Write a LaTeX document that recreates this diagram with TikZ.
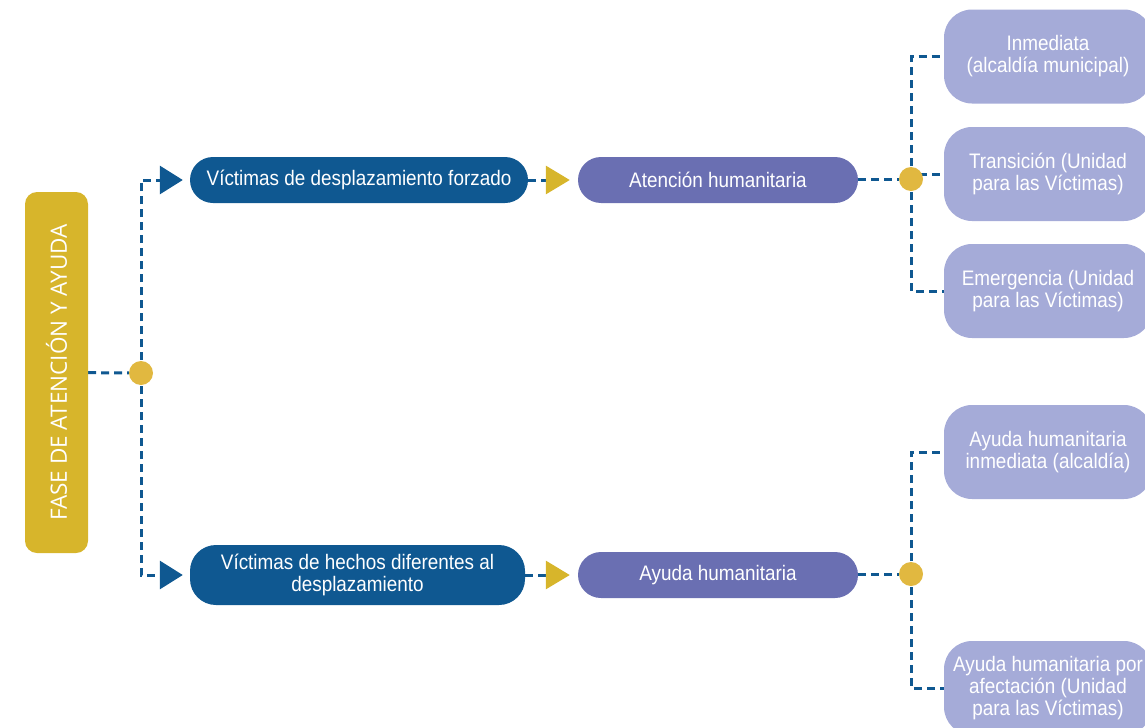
\documentclass[tikz,border=0pt]{standalone}
\usepackage{fontspec}
\setmainfont{Liberation Sans}[FakeStretch=0.9]
\newfontfamily\fasefont{Open Sans}
\usepackage{tikz}
\usetikzlibrary{arrows.meta,shapes,backgrounds}
\definecolor{gold}{RGB}{215,181,43}
\definecolor{dotgold}{RGB}{225,184,64}
\definecolor{navy}{RGB}{15,88,145}
\definecolor{violet}{RGB}{106,111,178}
\definecolor{lilac}{RGB}{165,171,216}

\begin{document}
\begin{tikzpicture}[
  every node/.style={text=white,font=\fontsize{21bp}{22bp}\selectfont,align=center,inner sep=0pt},
  fasebox/.style={fill=gold,rounded corners=12bp,minimum width=63bp,minimum height=361bp},
  navybox/.style={fill=navy,rounded corners=23bp,minimum width=338bp,minimum height=46bp},
  violetbox/.style={fill=violet,rounded corners=23bp,minimum width=280bp,minimum height=46bp},
  lilacbox/.style={fill=lilac,rounded corners=28bp,minimum width=208bp,minimum height=94bp},
  joint/.style={circle,fill=dotgold,minimum size=24bp},
  dashline/.style={draw=navy,line width=3bp,dash pattern=on 8bp off 5bp},
  navytip/.style={-{Triangle[length=23bp,width=28bp,color=navy]},shorten >=7bp},
  goldtip/.style={-{Triangle[length=24bp,width=28bp,color=gold]},shorten >=8bp}]
\useasboundingbox (0bp,0bp) rectangle (1145bp,-728bp);
\clip (0bp,0bp) rectangle (1145bp,-728bp);
\node (fase) at (56.5bp,-372.5bp)[fasebox] {};
\node at (fase.center)[rotate=90,font=\fasefont\fontsize{22.5bp}{24bp}\selectfont] {FASE DE ATENCIÓN Y AYUDA};
\node (dotL) at (141bp,-373bp)[joint] {};
\node (vic1) at (359bp,-180bp)[navybox] {Víctimas de desplazamiento forzado};
\node (vic2) at (357.5bp,-575bp)[navybox,minimum width=335bp,minimum height=60bp,rounded corners=26bp] {Víctimas de hechos diferentes al\\desplazamiento};
\node (aten) at (718bp,-180bp)[violetbox] {Atención humanitaria};
\node (ayuda) at (718bp,-575bp)[violetbox] {Ayuda humanitaria};
\node (dotR1) at (911bp,-179bp)[joint] {};
\node (dotR2) at (911bp,-574bp)[joint] {};
\node (inm) at (1048bp,-56.5bp)[lilacbox] {Inmediata\\(alcaldía municipal)};
\node (tra) at (1048bp,-174bp)[lilacbox] {Transición (Unidad\\para las Víctimas)};
\node (eme) at (1048bp,-291bp)[lilacbox] {Emergencia (Unidad\\para las Víctimas)};
\node (ayin) at (1048bp,-452bp)[lilacbox] {Ayuda humanitaria\\inmediata (alcaldía)};
\node (ayaf) at (1048bp,-688bp)[lilacbox] {Ayuda humanitaria por\\afectación (Unidad\\para las Víctimas)};
\begin{scope}[on background layer]
\draw [dashline] (fase) -- (dotL);
\draw [dashline,navytip] (dotL.center) |- (vic1);
\draw [dashline,navytip] (dotL.center) |- (vic2);
\draw [dashline,goldtip] (vic1) -- (aten);
\draw [dashline,goldtip] (vic2) -- (ayuda);
\draw [dashline] (aten.east |- dotR1) -- (dotR1);
\draw [dashline] (ayuda.east |- dotR2) -- (dotR2);
\draw [dashline] (dotR1.center) |- (inm);
\draw [dashline] (dotR1.center) |- (tra);
\draw [dashline] (dotR1.center) |- (eme);
\draw [dashline] (dotR2.center) |- (ayin);
\draw [dashline] (dotR2.center) |- (ayaf);
\end{scope}
\end{tikzpicture}
\end{document}
